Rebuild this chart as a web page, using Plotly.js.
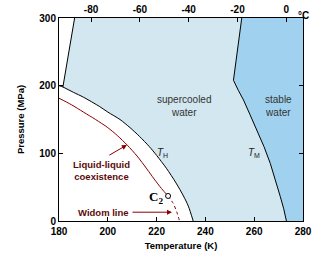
<!DOCTYPE html>
<html><head><meta charset="utf-8">
<script src="https://cdn.plot.ly/plotly-3.0.1.min.js"></script>
<style>html,body{margin:0;padding:0;background:#fff}#c{width:316px;height:257px}</style>
</head><body><div id="c"></div>
<script>
// Homogeneous nucleation line T_H (K, MPa)
const TH_T = [180, 181.6, 186, 190, 196.7, 200, 205, 209.1, 213, 217, 220, 224, 228, 231, 233, 235];
const TH_P = [200, 198, 190, 183, 169, 161, 150, 138, 125, 110, 97, 78, 56, 37, 22, 0];
// Melting line T_M
const TM_T = [254.9, 254.1, 253.2, 252.4, 251.5, 253.5, 255.6, 258.3, 261, 264, 266.6, 268.8, 270.7, 272.1, 273.2];
const TM_P = [300, 277, 253, 230, 208, 193, 179, 157, 134, 110, 85, 60, 36, 18, 0];
// Ice boundary (upper left)
const ICE_T = [181.6, 186.4];
const ICE_P = [198, 300];
// Liquid-liquid coexistence line
const LL_T = [180, 185, 190, 195, 200, 204, 208, 212, 216, 219, 222, 224.7];
const LL_P = [181.5, 172, 161, 150, 138, 126, 112, 96, 77, 62, 48, 37];
// Widom line
const WID_T = [224.7, 226.8, 228.2, 229.4];
const WID_P = [37, 26, 14, 0];
// Critical point C2
const C2_T = [224.7];
const C2_P = [37];
// Axis ranges / ticks
const T_RANGE = [180, 280];
const P_RANGE = [0, 300];
const K_TICKS = [180, 200, 220, 240, 260, 280];
const P_TICKS = [0, 100, 200, 300];
const C_TICKS = [-80, -60, -40, -20, 0];
const C_LABELS = ['-80', '-60', '-40', '-20', '0'];

const LIGHT = '#d2e7f0', DARK = '#a0d1ee', RED = '#8b0000', TXTRED = '#5c0a0a';

// supercooled region polygon
const supX = [...ICE_T, ...TM_T, ...TH_T.slice().reverse()];
const supY = [...ICE_P, ...TM_P, ...TH_P.slice().reverse()];
// stable water polygon
const stX = [...TM_T, T_RANGE[1], T_RANGE[1]];
const stY = [...TM_P, P_RANGE[0], P_RANGE[1]];

const line = (x, y, color, dash, shape) => ({x, y, type: 'scatter', mode: 'lines', line: {color, width: 1, dash: dash || 'solid', shape: shape || 'linear', smoothing: 0.8}, hoverinfo: 'skip'});

const traces = [
  {x: supX, y: supY, type: 'scatter', mode: 'none', fill: 'toself', fillcolor: LIGHT, hoverinfo: 'skip'},
  {x: stX, y: stY, type: 'scatter', mode: 'none', fill: 'toself', fillcolor: DARK, hoverinfo: 'skip'},
  line(TH_T, TH_P, '#000', 'solid', 'spline'),
  line(TM_T, TM_P, '#000'),
  line(ICE_T, ICE_P, '#000'),
  line(LL_T, LL_P, RED, 'solid', 'spline'),
  line(WID_T, WID_P, RED, 'dot', 'spline'),
  {x: C2_T, y: C2_P, type: 'scatter', mode: 'markers', marker: {size: 5, color: '#fff', line: {color: '#000', width: 1}}, hoverinfo: 'skip'},
  {x: [C_TICKS[0]], y: [0], xaxis: 'x2', type: 'scatter', mode: 'none', hoverinfo: 'skip'}
];

const tf = {family: 'Liberation Sans, Arial, sans-serif', size: 10, color: '#000', weight: 'bold'};
const layout = {
  width: 316, height: 257,
  margin: {l: 59, r: 13, t: 18, b: 36},
  paper_bgcolor: '#fff', plot_bgcolor: '#fff',
  showlegend: false,
  xaxis: {range: T_RANGE, tickvals: K_TICKS, ticks: 'inside', ticklen: 4, tickcolor: '#000',
    showline: true, linecolor: '#000', linewidth: 1, showgrid: false, zeroline: false,
    tickfont: tf, ticklabelstandoff: 1,
    title: {text: 'Temperature (K)', font: {family: 'Liberation Sans, Arial, sans-serif', size: 9.5, weight: 'bold', color: '#000'}, standoff: 6}},
  xaxis2: {range: [T_RANGE[0] - 273.15, T_RANGE[1] - 273.15], overlaying: 'x', side: 'top',
    tickvals: C_TICKS, ticktext: C_LABELS, ticks: 'inside', ticklen: 4, tickcolor: '#000',
    showline: true, linecolor: '#000', linewidth: 1, showgrid: false, zeroline: false, tickfont: tf},
  yaxis: {range: P_RANGE, tickvals: P_TICKS, ticks: 'inside', ticklen: 4, tickcolor: '#000',
    showline: true, mirror: 'ticks', linecolor: '#000', linewidth: 1, showgrid: false, zeroline: false,
    tickfont: tf,
    title: {text: 'Pressure (MPa)', font: {family: 'Liberation Sans, Arial, sans-serif', size: 9.5, weight: 'bold', color: '#000'}, standoff: 12}},
  annotations: [
    {xref: 'paper', yref: 'paper', x: 0.972, y: 1, yshift: 10, text: '°C', showarrow: false, xanchor: 'left',
      font: {family: 'Liberation Sans, Arial, sans-serif', size: 10, weight: 'bold', color: '#000'}},
    {x: 231.2, y: 170.6, text: 'supercooled<br>water', showarrow: false,
      font: {family: 'Liberation Sans, Arial, sans-serif', size: 10, color: '#333'}},
    {x: 269.9, y: 170.6, text: 'stable<br>water', showarrow: false,
      font: {family: 'Liberation Sans, Arial, sans-serif', size: 10, color: '#333'}},
    {x: 197.3, y: 75.3, text: 'Liquid-liquid<br>coexistence', showarrow: false,
      font: {family: 'Liberation Sans, Arial, sans-serif', size: 9.5, weight: 'bold', color: TXTRED}},
    {x: 198.2, y: 12.3, text: 'Widom line', showarrow: false,
      font: {family: 'Liberation Sans, Arial, sans-serif', size: 9.5, weight: 'bold', color: TXTRED}},
    {x: 207.8, y: 112.3, ax: -19, ay: 11, text: '', showarrow: true, arrowhead: 2, arrowsize: 1, arrowwidth: 1, arrowcolor: RED},
    {x: 226.3, y: 13, ax: -41, ay: 0, text: '', showarrow: true, arrowhead: 2, arrowsize: 1, arrowwidth: 1, arrowcolor: RED},
    {x: 219.8, y: 34, text: '<b>C</b><sub><b>2</b></sub>', showarrow: false,
      font: {family: 'Liberation Serif, Times New Roman, serif', size: 13, color: '#000'}},
    {x: 222.6, y: 101, text: '<i>T</i><sub>H</sub>', showarrow: false,
      font: {family: 'Liberation Sans, Arial, sans-serif', size: 10, color: '#222'}},
    {x: 260.1, y: 101, text: '<i>T</i><sub>M</sub>', showarrow: false,
      font: {family: 'Liberation Sans, Arial, sans-serif', size: 10, color: '#222'}}
  ]
};
Plotly.newPlot('c', traces, layout, {staticPlot: true, displayModeBar: false});
</script></body></html>
